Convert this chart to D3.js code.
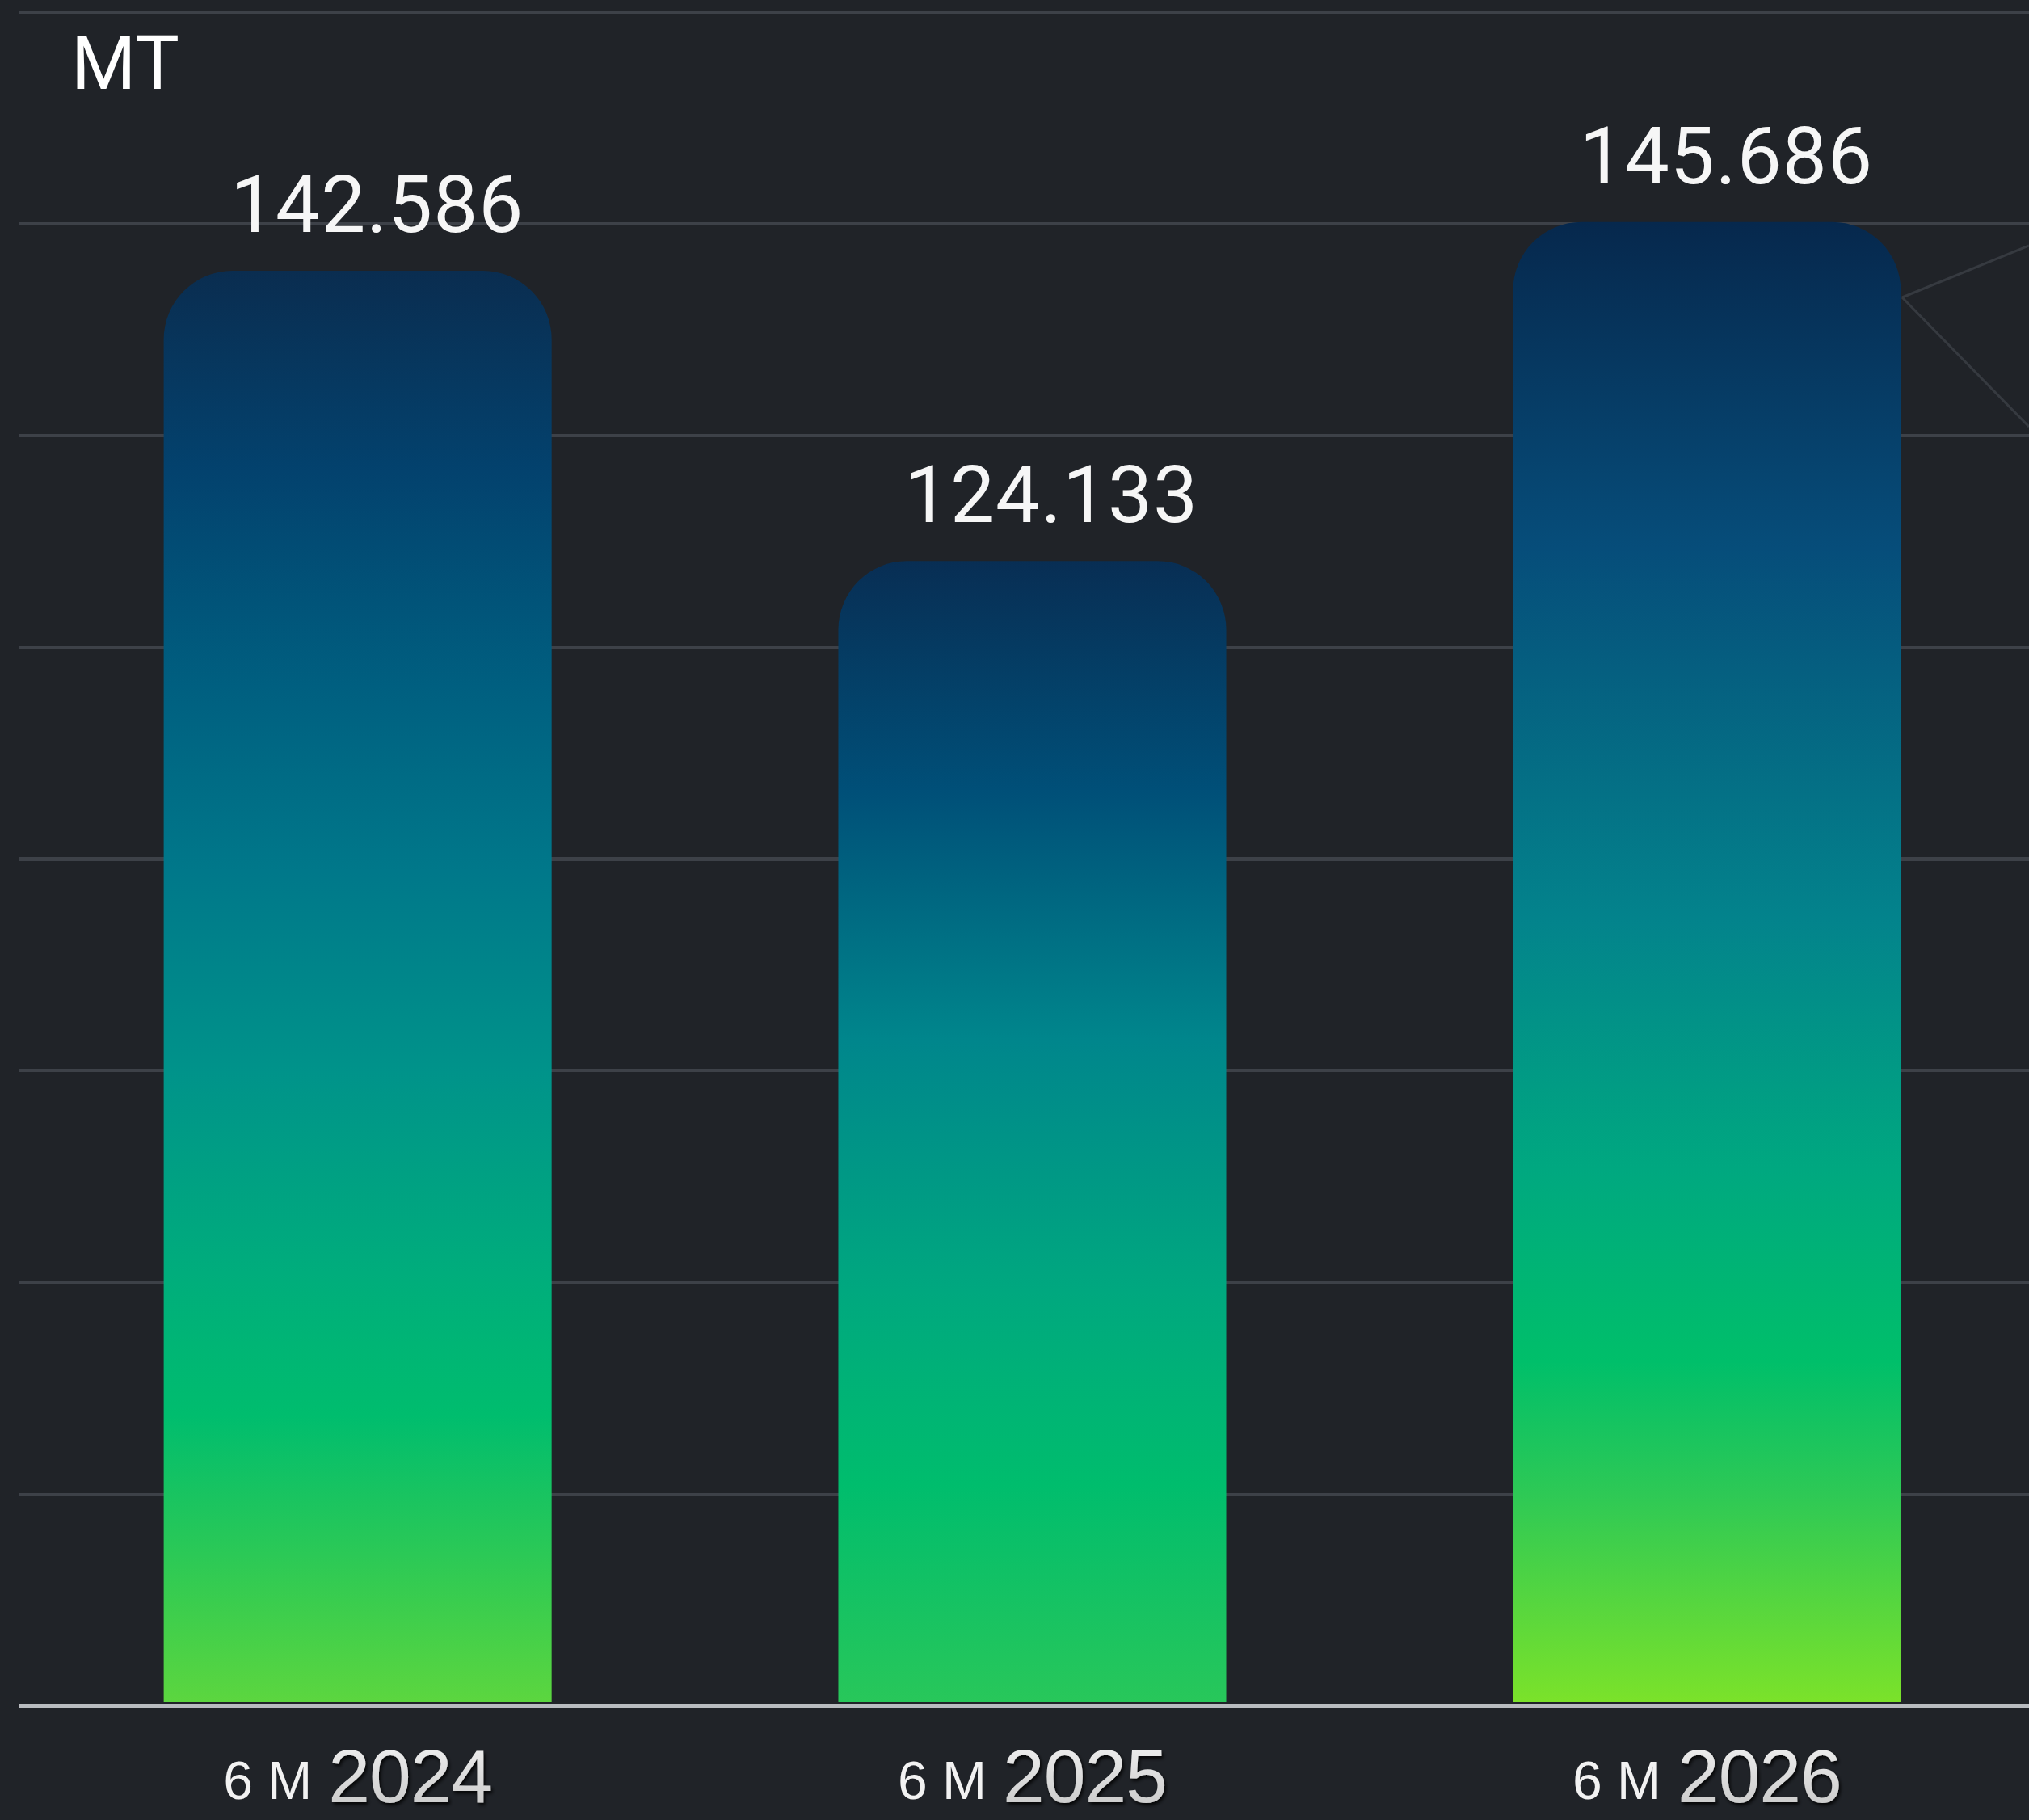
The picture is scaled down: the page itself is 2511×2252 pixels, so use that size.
<!DOCTYPE html>
<html>
<head>
<meta charset="utf-8">
<script src="https://cdn.jsdelivr.net/npm/d3@7"></script>
<style>
  html, body { margin: 0; padding: 0; background: #202328; }
  svg { display: block; }
</style>
</head>
<body>
<svg id="chart" width="2511" height="2252"></svg>
<script>
// ---- data ----
const categories = ["2024", "2025", "2026"];
const periodPrefix = ["6 M", "6 M", "6 M"];
const values = [142.586, 124.133, 145.686];
const valueLabels = ["142.586", "124.133", "145.686"];
const unitLabel = "MT";
const gridLevels = [0, 1, 2, 3, 4, 5, 6, 7, 8];

// ---- styles ----
const W = 2511, H = 2252;
const bg = "#202328";
const gridColor = "#3d4148";
const baseColor = "#b9bcc0";
const barStops = [
  [[0, "#0a2d50"], [0.14, "#03426e"], [0.29, "#005f80"], [0.42, "#00788a"], [0.56, "#00938a"], [0.70, "#00ad7c"], [0.80, "#00bd6e"], [0.93, "#3acd4e"], [1, "#5cd63f"]],
  [[0, "#082e54"], [0.20, "#004f78"], [0.42, "#00868c"], [0.64, "#00a87f"], [0.81, "#00bd6d"], [1, "#28c75a"]],
  [[0, "#06284d"], [0.22, "#064d7a"], [0.47, "#03838c"], [0.64, "#00a880"], [0.77, "#00bf6a"], [0.86, "#2ec955"], [1, "#7be22a"]]
];

const svg = d3.select("#chart");
svg.append("rect").attr("width", W).attr("height", H).attr("fill", bg);

const defs = svg.append("defs");
barStops.forEach((stops, i) => {
  const g = defs.append("linearGradient").attr("id", "barGrad" + i)
    .attr("x1", 0).attr("y1", 0).attr("x2", 0).attr("y2", 1);
  stops.forEach(s => g.append("stop").attr("offset", s[0]).attr("stop-color", s[1]));
});
const yearGrad = defs.append("linearGradient").attr("id", "yearGrad")
  .attr("x1", 0).attr("y1", 0).attr("x2", 0).attr("y2", 1);
yearGrad.append("stop").attr("offset", 0).attr("stop-color", "#f4f4f4");
yearGrad.append("stop").attr("offset", 1).attr("stop-color", "#c4c4c4");
const shadow = defs.append("filter").attr("id", "yearShadow")
  .attr("x", "-10%").attr("y", "-10%").attr("width", "130%").attr("height", "130%");
shadow.append("feDropShadow").attr("dx", 2).attr("dy", 3).attr("stdDeviation", 2)
  .attr("flood-color", "#000").attr("flood-opacity", 0.85);

// ---- scales ----
const plotLeft = 24, gridTop = 15, baseY = 2111, barBottom = 2106;
const x = d3.scaleBand().domain(categories).range([44, W])
  .paddingInner(0.425).paddingOuter(0.19);
const y = d3.scaleLinear().domain([51.6, 159.8]).range([barBottom, 0]);
const gridY = d3.scaleLinear().domain([0, 8]).range([baseY, gridTop]);

// ---- decorative watermark lines ----
const deco = svg.append("g").attr("stroke", "#363a40").attr("stroke-width", 3).attr("fill", "none");
deco.append("path").attr("d", "M2354,368 L2511,304 M2354,368 L2511,528");

// ---- gridlines ----
svg.append("g").selectAll("line").data(gridLevels.slice(1)).join("line")
  .attr("x1", plotLeft).attr("x2", W)
  .attr("y1", d => gridY(d)).attr("y2", d => gridY(d))
  .attr("stroke", gridColor).attr("stroke-width", 4);

// ---- bars ----
const r = 85;
function barPath(x0, w, top, bottom) {
  const p = d3.path();
  const rr = Math.min(r, w / 2, (bottom - top));
  p.moveTo(x0, bottom);
  p.lineTo(x0, top + rr);
  p.arcTo(x0, top, x0 + rr, top, rr);
  p.lineTo(x0 + w - rr, top);
  p.arcTo(x0 + w, top, x0 + w, top + rr, rr);
  p.lineTo(x0 + w, bottom);
  p.closePath();
  return p.toString();
}
svg.append("g").selectAll("path").data(values).join("path")
  .attr("d", (d, i) => barPath(x(categories[i]), x.bandwidth(), y(d), y(y.domain()[0])))
  .attr("fill", (d, i) => `url(#barGrad${i})`);

// ---- baseline ----
svg.append("line").attr("x1", plotLeft).attr("x2", W)
  .attr("y1", baseY).attr("y2", baseY)
  .attr("stroke", baseColor).attr("stroke-width", 5);

// ---- value labels ----
svg.append("g").selectAll("text").data(values).join("text")
  .attr("x", (d, i) => x(categories[i]) + x.bandwidth() / 2 + 24)
  .attr("y", d => y(d) - 48)
  .attr("text-anchor", "middle")
  .attr("font-family", "Roboto, 'Open Sans', sans-serif")
  .attr("font-size", 98)
  .attr("letter-spacing", 1)
  .attr("fill", "#f6f6f6")
  .text((d, i) => valueLabels[i]);

// ---- unit label ----
svg.append("text").attr("x", 88).attr("y", 110)
  .attr("font-family", "Roboto, 'Open Sans', sans-serif")
  .attr("font-size", 92).attr("fill", "#ffffff")
  .text(unitLabel);

// ---- category labels ----
const xl = svg.append("g").selectAll("text").data(categories).join("text")
  .attr("x", d => x(d) + x.bandwidth() / 2)
  .attr("y", 2226)
  .attr("text-anchor", "middle")
  .attr("font-family", "'Liberation Sans', Arial, sans-serif");
xl.append("tspan")
  .attr("font-size", 66).attr("fill", "#f2f2f2")
  .text((d, i) => periodPrefix[i]);
xl.append("tspan")
  .attr("dx", 20).attr("dy", 4)
  .attr("font-size", 93).attr("letter-spacing", -1)
  .attr("fill", "url(#yearGrad)")
  .attr("filter", "url(#yearShadow)")
  .text(d => d);
</script>
</body>
</html>
